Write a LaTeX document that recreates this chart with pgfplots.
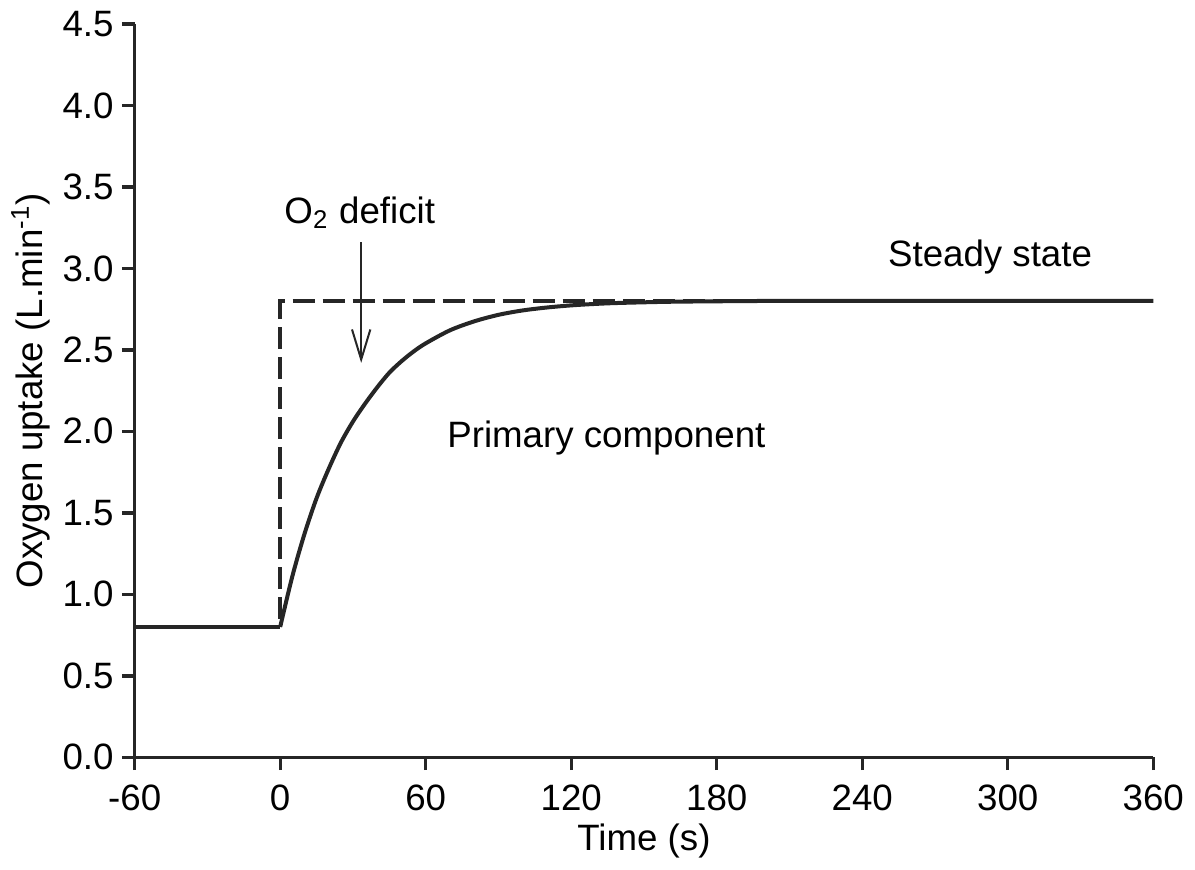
\documentclass[border=0pt]{standalone}
\usepackage{pgfplots}
\pgfplotsset{compat=1.18}
\usepackage{fontspec}
\setmainfont{Liberation Sans}
\usetikzlibrary{arrows.meta}
\begin{document}
\begin{tikzpicture}
\begin{axis}[
  scale only axis,
  width=305.4pt, height=219.9pt,
  xmin=-60, xmax=360, ymin=0, ymax=4.5,
  axis x line=bottom, axis y line=left,
  axis line style={-, line width=1pt, black!85},
  tick align=outside,
  major tick length=3.8pt,
  every tick/.style={line width=1pt, black!85},
  xtick={-60,0,60,120,180,240,300,360},
  xticklabels={-60,0,60,120,180,240,300,360},
  ytick={0,0.5,1,1.5,2,2.5,3,3.5,4,4.5},
  yticklabels={0.0,0.5,1.0,1.5,2.0,2.5,3.0,3.5,4.0,4.5},
  tick label style={font=\fontsize{11}{12}\selectfont},
  yticklabel style={xshift=1pt},
  xticklabel style={yshift=-1pt},
  xlabel={Time (s)},
  ylabel={Oxygen uptake (L.min\textsuperscript{-1})},
  label style={font=\fontsize{11}{12}\selectfont},
  xlabel style={yshift=3pt},
  ylabel style={yshift=-3pt},
  clip=false,
]
\addplot[black!85, line width=1.1pt, dash pattern=on 6.6pt off 2.4pt] coordinates {
  (0,0.85) (0,2.8) (360,2.8)
};
\addplot[black!85, line width=1.2pt, smooth, tension=0.5] coordinates {
  (0,0.80) (5,1.11) (10,1.37) (15,1.59) (20,1.77) (25,1.93) (30,2.06)
  (35,2.17) (40,2.27) (45,2.36) (50,2.43) (55,2.49) (60,2.54) (70,2.62) (80,2.675)
  (90,2.715) (100,2.742) (110,2.760) (120,2.773) (130,2.782) (140,2.788)
  (160,2.795) (180,2.798) (200,2.80) (240,2.80) (360,2.80)
};
\addplot[black!85, line width=1.2pt] coordinates {
  (-60,0.80) (0,0.80)
};
\draw[-{Straight Barb[length=9pt,width=5.5pt]}, line width=0.6pt, black!85]
  (axis cs:33.4,3.16) -- (axis cs:33.4,2.42);
\node[font=\fontsize{11}{12}\selectfont] at (axis cs:32.8,3.34) {O\textsubscript{2} deficit};
\node[font=\fontsize{11}{12}\selectfont] at (axis cs:292.7,3.07) {Steady state};
\node[font=\fontsize{11}{12}\selectfont] at (axis cs:134.5,1.96) {Primary component};
\end{axis}
\end{tikzpicture}
\end{document}
